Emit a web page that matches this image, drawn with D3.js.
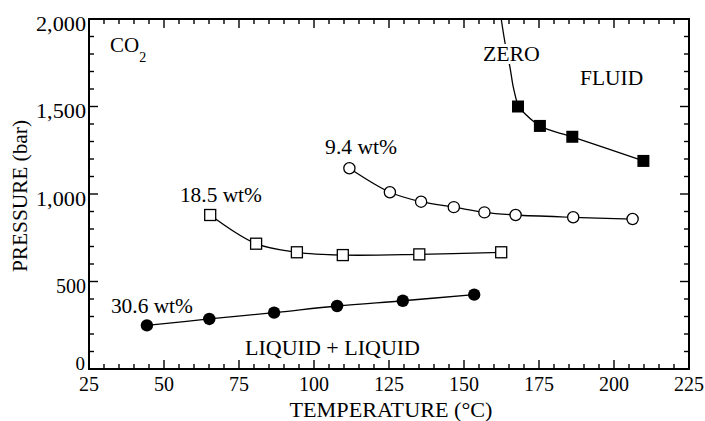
<!DOCTYPE html>
<html>
<head>
<meta charset="utf-8">
<script src="https://cdn.jsdelivr.net/npm/d3@7"></script>
<style>
  body { margin: 0; background: #fff; }
</style>
</head>
<body>
<svg id="chart"></svg>
<script>
// values (temperature in °C, pressure in bar)
const zeroT = [168, 175.3, 186.1, 209.8];
const zeroP = [1500, 1389, 1327, 1189];
// part of the zero curve that runs on up to the top edge, no markers
const zeroExtT = [162.4, 163.9, 165.3, 166.4, 168];
const zeroExtP = [2000, 1842, 1727, 1613, 1500];

const wt94T = [111.8, 125.3, 135.7, 146.6, 156.8, 167.2, 186.4, 206.2];
const wt94P = [1147, 1010, 956, 925, 895, 880, 867, 857];

const wt185T = [65.4, 80.7, 94.3, 109.6, 135.1, 162.4];
const wt185P = [880, 716, 667, 651, 655, 667];

const wt306T = [44.3, 65.1, 86.7, 107.7, 129.6, 153.4];
const wt306P = [249, 286, 322, 360, 390, 425];

const xTicks = [25, 50, 75, 100, 125, 150, 175, 200, 225];
const yTicks = [0, 500, 1000, 1500, 2000];
const yTickLabels = ['0', '500', '1,000', '1,500', '2,000'];

const annoText = ['ZERO', 'FLUID', '9.4 wt%', '18.5 wt%', '30.6 wt%', 'LIQUID + LIQUID'];
const annoT = [156.3, 188.7, 103.7, 55.3, 32.3, 77];
const annoP = [1760, 1623, 1229, 954, 320, 80];

const W = 705, H = 421;
const margin = { top: 19, right: 16, bottom: 52, left: 89 };
const FONT = '"Liberation Serif"';

const svg = d3.select('#chart')
  .attr('width', W)
  .attr('height', H);

const x = d3.scaleLinear()
  .domain([25, 225])
  .range([margin.left, W - margin.right]);

const y = d3.scaleLinear()
  .domain([0, 2000])
  .range([H - margin.bottom, margin.top]);

const x0 = x.range()[0], x1 = x.range()[1];
const y0 = y.range()[0], y1 = y.range()[1];

const xMinor = d3.range(25, 226, 5).filter(d => d % 25 !== 0);
const yMinor = d3.range(0, 2001, 100).filter(d => d % 500 !== 0);

// ticks point inward on all four sides
const ticks = svg.append('g').attr('stroke', '#000').attr('stroke-width', 1.4);
xTicks.concat(xMinor).forEach(d => {
  const len = xTicks.includes(d) ? 9 : 5;
  ticks.append('line').attr('x1', x(d)).attr('x2', x(d)).attr('y1', y0).attr('y2', y0 - len);
  ticks.append('line').attr('x1', x(d)).attr('x2', x(d)).attr('y1', y1).attr('y2', y1 + len);
});
yTicks.concat(yMinor).forEach(d => {
  const len = yTicks.includes(d) ? 9 : 5;
  ticks.append('line').attr('y1', y(d)).attr('y2', y(d)).attr('x1', x0).attr('x2', x0 + len);
  ticks.append('line').attr('y1', y(d)).attr('y2', y(d)).attr('x1', x1).attr('x2', x1 - len);
});

svg.append('rect')
  .attr('x', x0).attr('y', y1)
  .attr('width', x1 - x0).attr('height', y0 - y1)
  .attr('fill', 'none')
  .attr('stroke', '#000')
  .attr('stroke-width', 2);

// small helper so every text gets the serif face
const txt = (sel) => sel.append('text').style('font-family', FONT).attr('fill', '#000');

// tick labels
xTicks.forEach(d => {
  txt(svg)
    .attr('x', x(d))
    .attr('y', y0 + 22)
    .attr('text-anchor', 'middle')
    .style('font-size', '20px')
    .text(d);
});

yTicks.forEach((d, i) => {
  txt(svg)
    .attr('x', x0 - (d === 0 ? 4 : 3))
    .attr('y', y(d) + (d === 0 ? 1 : 11.5))   // the zero sits up against the 25
    .attr('text-anchor', 'end')
    .attr('textLength', d >= 1000 ? 50 : null)
    .attr('lengthAdjust', 'spacingAndGlyphs')
    .style('font-size', d === 0 ? '19px' : '20px')
    .text(yTickLabels[i]);
});

// axis titles
txt(svg)
  .attr('text-anchor', 'middle')
  .attr('transform', `translate(27,196)rotate(-90)`)
  .attr('textLength', 152)
  .attr('lengthAdjust', 'spacingAndGlyphs')
  .style('font-size', '20px')
  .text('PRESSURE (bar)');

txt(svg)
  .attr('text-anchor', 'middle')
  .attr('x', 391)
  .attr('y', 417)
  .attr('textLength', 203)
  .attr('lengthAdjust', 'spacingAndGlyphs')
  .style('font-size', '20px')
  .text('TEMPERATURE (°C)');

// curves
const plot = svg.append('g');
const line = d3.line()
  .x(d => x(d[0]))
  .y(d => y(d[1]))
  .curve(d3.curveCatmullRom);

const pairs = (ts, ps) => ts.map((t, i) => [t, ps[i]]);

[pairs(zeroExtT, zeroExtP), pairs(zeroT, zeroP), pairs(wt94T, wt94P),
 pairs(wt185T, wt185P), pairs(wt306T, wt306P)].forEach(pts => {
  plot.append('path')
    .datum(pts)
    .attr('d', line)
    .attr('fill', 'none')
    .attr('stroke', '#000')
    .attr('stroke-width', 1.3);
});

// annotations (white halo so the zero curve breaks under its label)
const annoWidth = { 'ZERO': 57, 'FLUID': 63, '9.4 wt%': 72, '18.5 wt%': 82, '30.6 wt%': 82, 'LIQUID + LIQUID': 175 };
annoText.forEach((s, i) => {
  txt(svg)
    .attr('x', x(annoT[i]))
    .attr('y', y(annoP[i]))
    .attr('textLength', annoWidth[s])
    .attr('lengthAdjust', 'spacingAndGlyphs')
    .style('font-size', '20px')
    .style('stroke', '#fff')
    .style('stroke-width', 6)
    .style('paint-order', 'stroke')
    .text(s);
});

const co2 = txt(svg)
  .attr('x', x(32))
  .attr('y', y(1811))
  .style('font-size', '21px');
co2.append('tspan').text('CO');
co2.append('tspan').attr('dy', 10).style('font-size', '14px').text('2');

// markers
const sq = 12;
plot.selectAll('.zero')
  .data(pairs(zeroT, zeroP))
  .enter()
  .append('rect')
  .attr('x', d => x(d[0]) - sq / 2)
  .attr('y', d => y(d[1]) - sq / 2)
  .attr('width', sq).attr('height', sq)
  .attr('fill', '#000');

plot.selectAll('.w185')
  .data(pairs(wt185T, wt185P))
  .enter()
  .append('rect')
  .attr('x', d => x(d[0]) - sq / 2 + 0.5)
  .attr('y', d => y(d[1]) - sq / 2 + 0.5)
  .attr('width', sq - 1).attr('height', sq - 1)
  .attr('fill', '#fff')
  .attr('stroke', '#000')
  .attr('stroke-width', 1.3);

plot.selectAll('.w94')
  .data(pairs(wt94T, wt94P))
  .enter()
  .append('circle')
  .attr('cx', d => x(d[0]))
  .attr('cy', d => y(d[1]))
  .attr('r', 5.6)
  .attr('fill', '#fff')
  .attr('stroke', '#000')
  .attr('stroke-width', 1.3);

plot.selectAll('.w306')
  .data(pairs(wt306T, wt306P))
  .enter()
  .append('circle')
  .attr('cx', d => x(d[0]))
  .attr('cy', d => y(d[1]))
  .attr('r', 6.2)
  .attr('fill', '#000');
</script>
</body>
</html>
